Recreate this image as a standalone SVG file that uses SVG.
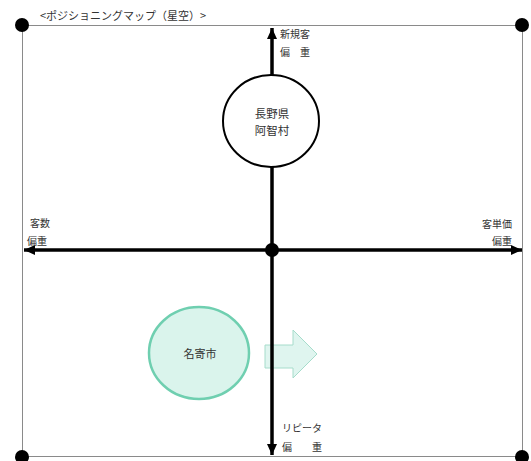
<svg xmlns="http://www.w3.org/2000/svg" width="531" height="461" viewBox="0 0 531 461">
<style>
  text { font-family: "Noto Sans CJK JP", "Noto Sans", sans-serif; fill: #333; }
  .lbl { font-size: 10px; }
  .node { font-size: 11.5px; }
  .axis { stroke: #000; stroke-width: 3.5; fill: none; }
  .frame { stroke: #8a8a8a; stroke-width: 1; fill: none; }
  .dot { fill: #000; }
</style>
<defs>
  <marker id="ah" markerUnits="userSpaceOnUse" markerWidth="12" markerHeight="12" viewBox="0 0 12 12" refX="11" refY="6" orient="auto">
    <path d="M0,1 L11,6 L0,11 Z" fill="#000"/>
  </marker>
</defs>
<rect width="531" height="461" fill="#fff"/>
<g id="frame">
  <rect class="frame" x="22.5" y="25.5" width="500" height="431"/>
  <circle class="dot" cx="22" cy="25" r="7"/>
  <circle class="dot" cx="522" cy="25" r="7"/>
  <circle class="dot" cx="22" cy="457" r="7"/>
  <circle class="dot" cx="522" cy="457" r="7"/>
</g>
<g id="title">
  <text x="40" y="20" style="font-size:11px">&lt;ポジショニングマップ（星空）&gt;</text>
</g>
<g id="shift-arrow">
  <path d="M265,345 L293,345 L293,330 L317,354 L293,378 L293,368 L265,368 Z" fill="#dff5ef" stroke="#a6dccb" stroke-width="1"/>
</g>
<g id="connectors">
  <line class="axis" x1="272" y1="250" x2="272" y2="28" marker-end="url(#ah)"/>
  <line class="axis" x1="272" y1="250" x2="272" y2="455" marker-end="url(#ah)"/>
  <line class="axis" x1="272" y1="250" x2="24" y2="250" marker-end="url(#ah)"/>
  <line class="axis" x1="272" y1="250" x2="522" y2="250" marker-end="url(#ah)"/>
  <circle class="dot" cx="272" cy="250" r="7"/>
</g>
<g id="node-achi">
  <ellipse cx="271" cy="121" rx="48" ry="46" fill="#fff" stroke="#000" stroke-width="2"/>
  <text class="node" x="272" y="118" text-anchor="middle">長野県</text>
  <text class="node" x="272" y="135" text-anchor="middle">阿智村</text>
</g>
<g id="node-nayoro">
  <ellipse cx="199" cy="353" rx="50" ry="46" fill="#daf4ec" stroke="#6fcfb0" stroke-width="2.5"/>
  <text class="node" x="200" y="358" text-anchor="middle" style="font-size:11px">名寄市</text>
</g>
<g id="label-top">
  <text class="lbl" x="280" y="38">新規客</text>
  <text class="lbl" x="280" y="56">偏　重</text>
</g>
<g id="label-left">
  <text class="lbl" x="30" y="227">客数</text>
  <text class="lbl" x="27" y="245">偏重</text>
</g>
<g id="label-right">
  <text class="lbl" x="512" y="228" text-anchor="end">客単価</text>
  <text class="lbl" x="512" y="245" text-anchor="end">偏重</text>
</g>
<g id="label-bottom">
  <text class="lbl" x="282" y="432">リピータ</text>
  <text class="lbl" x="282" y="451">偏　　重</text>
</g>
</svg>
